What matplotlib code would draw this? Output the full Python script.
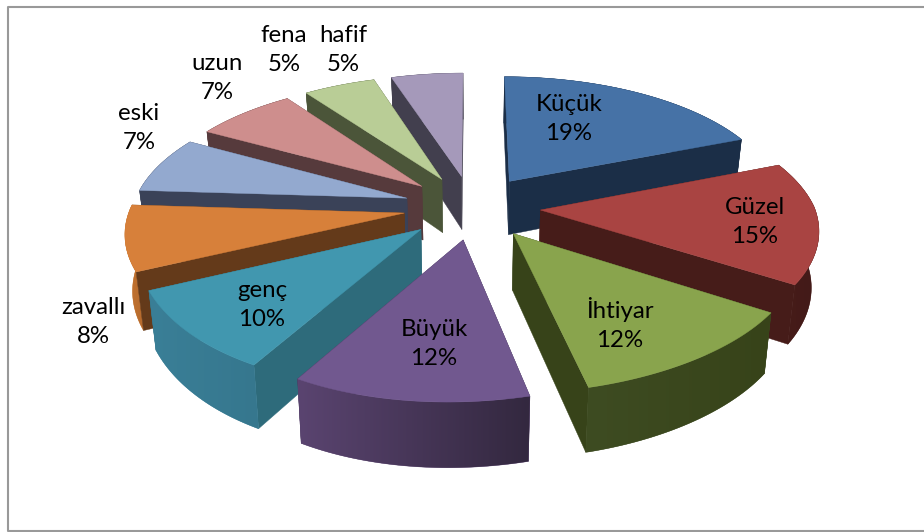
import numpy as np
import matplotlib
matplotlib.use("Agg")
import matplotlib.pyplot as plt
from matplotlib.colors import to_rgb
from matplotlib.patches import Polygon

categories = ["Küçük", "Güzel", "İhtiyar", "Büyük", "genç", "zavallı", "eski", "uzun", "fena", "hafif"]
values = [19, 15, 12, 12, 10, 8, 7, 7, 5, 5]

top_colors = ["#4672A6", "#A94442", "#89A44D", "#71588F", "#4197AF",
              "#D7803A", "#93A9CF", "#CE8E8D", "#B9CD96", "#A599BA"]
cut_colors = ["#1B2E47", "#461C19", "#374319", "#3A2C4E", "#2E6B7B",
              "#643A1A", "#3A4258", "#563A3C", "#4B5539", "#423F4E"]
rim_left = ["#1B2E47", "#481C19", "#3E4C22", "#5A4470", "#3A7F97",
            "#C67630", "#3A4258", "#563A3C", "#4B5539", "#423F4E"]
rim_right = ["#1B2E47", "#421A18", "#374319", "#33283F", "#36778E",
             "#B56A2E", "#3A4258", "#563A3C", "#4B5539", "#423F4E"]

label_xy = [(569, 119), (755, 222), (620, 324), (434, 344), (262, 305),
            (93, 322), (139, 128), (217, 78), (284, 50), (343, 50)]

# camera settings, fitted by eye to the picture (pixels)
CX, CY = 472, 207
RX, RY = 274, 128
PERSP_BACK = 0.154
PERSP_FRONT_X = 0.13
PERSP_FRONT_Y = 0.145
FRONT_SHIFT = 25
EXPLODE = 0.25
THICK = 55
BOTTOM_SHRINK = 0.978


def project(X, Y, bottom=False):
    sy = 1 / (1 + (PERSP_BACK if Y > 0 else PERSP_FRONT_Y) * Y)
    sx = 1 / (1 + (PERSP_BACK if Y > 0 else PERSP_FRONT_X) * Y)
    x = RX * X * sx
    y = CY - RY * Y * sy
    if bottom:
        x = x * BOTTOM_SHRINK
        y = y + THICK * sx
    if Y < -0.5:
        x = x - FRONT_SHIFT * (Y + 0.5) ** 2
    return CX + x, y


fig = plt.figure(figsize=(9.24, 5.32), dpi=100)
ax = fig.add_axes([0, 0, 1, 1])
ax.set_xlim(0, 924)
ax.set_ylim(532, 0)
ax.autoscale(False)
ax.axis("off")

ax.plot([924, 8, 8, 924], [6.5, 6.5, 531, 531], color="#999999", linewidth=1.5, zorder=1)

fractions = np.array(values) / np.sum(values)
ends = np.cumsum(fractions) * 2 * np.pi
starts = ends - fractions * 2 * np.pi
mids = (starts + ends) / 2

# back slices first
order = np.argsort(-np.cos(mids))
z = 2
for i in order:
    ax0 = EXPLODE * np.sin(mids[i])
    ay0 = EXPLODE * np.cos(mids[i])
    t = np.linspace(starts[i], ends[i], 60)
    X = ax0 + np.sin(t)
    Y = ay0 + np.cos(t)
    rim_top = [project(a, b) for a, b in zip(X, Y)]
    rim_bot = [project(a, b, True) for a, b in zip(X, Y)]

    faces = []
    for k in (0, -1):
        pts = [project(ax0, ay0), rim_top[k], rim_bot[k], project(ax0, ay0, True)]
        faces.append(((ay0 + Y[k]) / 2, pts, "cut"))
    faces.append((Y.mean(), rim_top + rim_bot[::-1], "rim"))

    for depth, pts, kind in sorted(faces, key=lambda a: -a[0]):
        col = cut_colors[i] if kind == "cut" else rim_left[i]
        poly = Polygon(pts, closed=True, facecolor=col, edgecolor=col, linewidth=0.3, zorder=z)
        ax.add_patch(poly)
        z += 1
        if kind == "rim":
            # gradient along the outer wall
            xs = np.array(pts)[:, 0]
            ys = np.array(pts)[:, 1]
            ramp = np.linspace(to_rgb(rim_left[i]), to_rgb(rim_right[i]), 128)[np.newaxis, :, :]
            im = ax.imshow(ramp, extent=(xs.min(), xs.max(), ys.max(), ys.min()),
                           aspect="auto", zorder=z, interpolation="bilinear")
            im.set_clip_path(poly)
            z += 1

    top = [project(ax0, ay0)] + rim_top
    ax.add_patch(Polygon(top, closed=True, facecolor=top_colors[i], edgecolor=top_colors[i],
                         linewidth=0.3, zorder=z))
    z += 1

for name, val, (lx, ly) in zip(categories, values, label_xy):
    ax.text(lx, ly, f"{name}\n{val}%", ha="center", va="center", family="Lato",
            fontsize=17.3, linespacing=1.45, color="black", zorder=z)

fig.savefig("out.png", dpi=100)
